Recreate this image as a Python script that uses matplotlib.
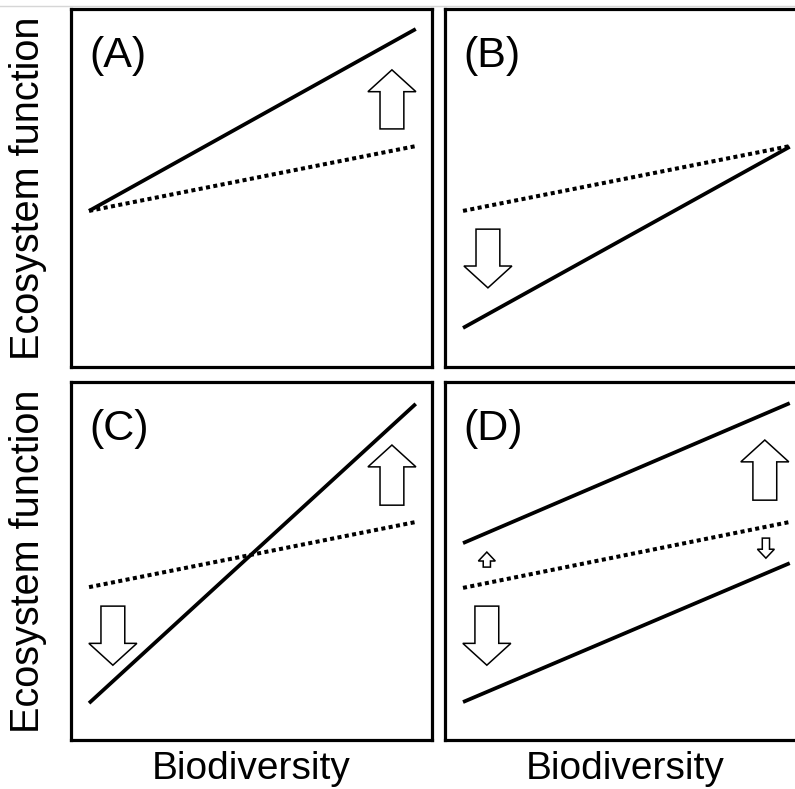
import matplotlib.pyplot as plt
from matplotlib.lines import Line2D
from matplotlib.patches import FancyArrow

plt.rcParams["font.family"] = ["Liberation Sans", "DejaVu Sans"]

# x positions of line ends (same for every panel, 0-10 scale)
x_ends = [0.5, 9.55]

# reference (dotted) lines per panel
ref_lines = {
    "A": [4.36, 6.17],
    "B": [4.36, 6.17],
    "C": [4.27, 6.09],
    "D": [4.25, 6.09],
}
# solid lines per panel (D has two)
solid_lines = {
    "A": [[4.36, 9.44]],
    "B": [[1.09, 6.15]],
    "C": [[1.03, 9.39]],
    "D": [[5.50, 9.41], [1.06, 4.94]],
}
# arrows: (x, start y, end y, size)
arrows = {
    "A": [(8.89, 6.65, 8.30, "big")],
    "B": [(1.19, 3.85, 2.21, "big")],
    "C": [(8.89, 6.56, 8.24, "big"), (1.16, 3.74, 2.09, "big")],
    "D": [(8.86, 6.70, 8.38, "big"), (1.16, 3.74, 2.09, "big"),
          (1.16, 4.83, 5.25, "small"), (8.89, 5.64, 5.08, "small")],
}
panel_labels = ["A", "B", "C", "D"]
xlabel = "Biodiversity"
ylabel = "Ecosystem function"

arrow_sizes = {
    "big": dict(width=0.66, head_width=1.33, head_length=0.61),
    "small": dict(width=0.2, head_width=0.47, head_length=0.25),
}

fig = plt.figure(figsize=(7.95, 7.89), dpi=100)
# faint rule at very top of the original image
fig.add_artist(Line2D([0, 1], [1 - 6 / 789, 1 - 6 / 789], color="#d6d6d6", lw=1.0))

positions = {
    "A": [0.0893, 0.5349, 0.4541, 0.4537],
    "B": [0.5597, 0.5349, 0.4541, 0.4537],
    "C": [0.0893, 0.0621, 0.4541, 0.4537],
    "D": [0.5597, 0.0621, 0.4541, 0.4537],
}

for key in panel_labels:
    ax = fig.add_axes(positions[key])
    ax.set_xlim(0, 10)
    ax.set_ylim(0, 10)
    ax.set_xticks([])
    ax.set_yticks([])
    for spine in ax.spines.values():
        spine.set_linewidth(2.3)

    ax.plot(x_ends, ref_lines[key], color="black", lw=2.9,
            linestyle=(0, (1.0, 0.85)), dash_capstyle="butt")
    for ys in solid_lines[key]:
        ax.plot(x_ends, ys, color="black", lw=2.7, solid_capstyle="butt")

    for x, y0, y1, size in arrows[key]:
        ax.add_patch(FancyArrow(x, y0, 0, y1 - y0, length_includes_head=True,
                                facecolor="white", edgecolor="black", lw=1.1,
                                zorder=3, **arrow_sizes[size]))

    ax.text(0.5, 8.7, f"({key})", fontsize=31, va="center", ha="left")

    if key in ("A", "C"):
        ax.set_ylabel(ylabel, fontsize=28.5, labelpad=17)
    if key in ("C", "D"):
        ax.set_xlabel(xlabel, fontsize=28, labelpad=8)

fig.savefig("out.png", dpi=100)
